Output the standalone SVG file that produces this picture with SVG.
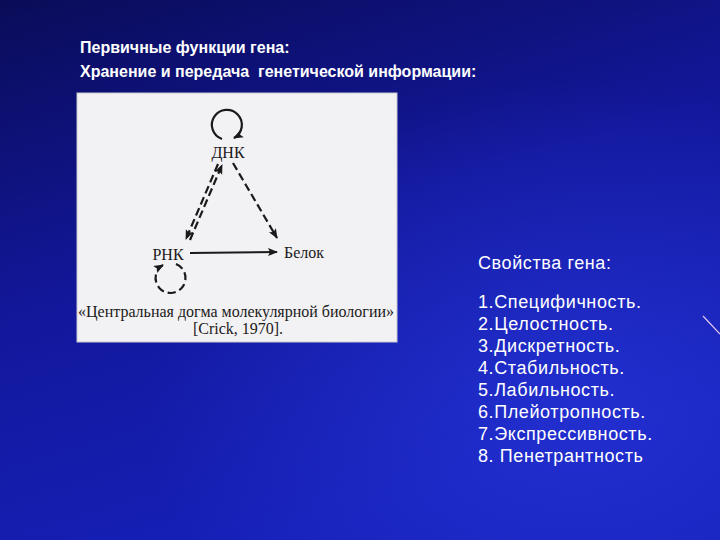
<svg xmlns="http://www.w3.org/2000/svg" width="720" height="540" viewBox="0 0 720 540">
<defs>
<linearGradient id="bg" x1="0" y1="0" x2="0.4" y2="1">
<stop offset="0" stop-color="#0a0c58"/>
<stop offset="0.5" stop-color="#12179a"/>
<stop offset="1" stop-color="#1620b8"/>
</linearGradient>
<radialGradient id="glow" cx="0.8" cy="0.75" r="0.6">
<stop offset="0" stop-color="#2a3ae0" stop-opacity="0.6"/>
<stop offset="1" stop-color="#2a3ae0" stop-opacity="0"/>
</radialGradient>
<marker id="ah" viewBox="0 0 10 10" refX="9" refY="5" markerWidth="11" markerHeight="10" markerUnits="userSpaceOnUse" orient="auto">
<path d="M0,1 L10,5 L0,9 L2,5 Z" fill="#1a1a1a"/>
</marker>
<style>
.t{font-family:"Liberation Sans",Arial,sans-serif;fill:#ffffff}
.h{font-weight:bold;font-size:16px}
.l{font-size:18px;letter-spacing:0.6px}
.s{font-family:"Liberation Serif","Times New Roman",serif;fill:#1a1a1a;font-size:16px}
.ln{stroke:#1a1a1a;stroke-width:2.2;fill:none}
.d{stroke-dasharray:8 4}
</style>
</defs>
<rect width="720" height="540" fill="url(#bg)"/>
<rect width="720" height="540" fill="url(#glow)"/>
<line x1="703" y1="316" x2="720" y2="334" stroke="#e8c8f0" stroke-width="1.2"/>
<g id="title">
<text class="t h" x="80" y="53">Первичные функции гена:</text>
<text class="t h" x="80" y="77" xml:space="preserve">Хранение и передача  генетической информации:</text>
</g>
<g id="panel">
<rect x="77" y="93" width="320" height="249" fill="#f2f1f3" stroke="#c8c8d0" stroke-width="1"/>
</g>
<g id="connectors">
<path class="ln" d="M222,139 A15,15 0 1 1 234,138" marker-end="url(#ah)"/>
<line class="ln d" x1="233" y1="163" x2="277" y2="238" marker-end="url(#ah)"/>
<line class="ln d" x1="190" y1="240" x2="222" y2="165" marker-end="url(#ah)"/>
<line class="ln d" x1="218" y1="164" x2="186" y2="239" marker-end="url(#ah)"/>
<line class="ln" x1="190" y1="253" x2="277" y2="252" marker-end="url(#ah)"/>
<path class="ln d" d="M176,264 A15,15 0 1 1 163,265" marker-end="url(#ah)"/>
</g>
<g id="dnk"><text class="s" x="228" y="158" text-anchor="middle">ДНК</text></g>
<g id="rnk"><text class="s" x="168" y="260" text-anchor="middle">РНК</text></g>
<g id="belok"><text class="s" x="284" y="258">Белок</text></g>
<g id="caption">
<text class="s" x="236" y="317" text-anchor="middle">«Центральная догма молекулярной биологии»</text>
<text class="s" x="238" y="334" text-anchor="middle">[Crick, 1970].</text>
</g>
<g id="props">
<text class="t l" x="478" y="269">Свойства гена:</text>
<text class="t l" x="478" y="308">1.Специфичность.</text>
<text class="t l" x="478" y="330">2.Целостность.</text>
<text class="t l" x="478" y="352">3.Дискретность.</text>
<text class="t l" x="478" y="374">4.Стабильность.</text>
<text class="t l" x="478" y="396">5.Лабильность.</text>
<text class="t l" x="478" y="418">6.Плейотропность.</text>
<text class="t l" x="478" y="440">7.Экспрессивность.</text>
<text class="t l" x="478" y="462">8. Пенетрантность</text>
</g>
</svg>
